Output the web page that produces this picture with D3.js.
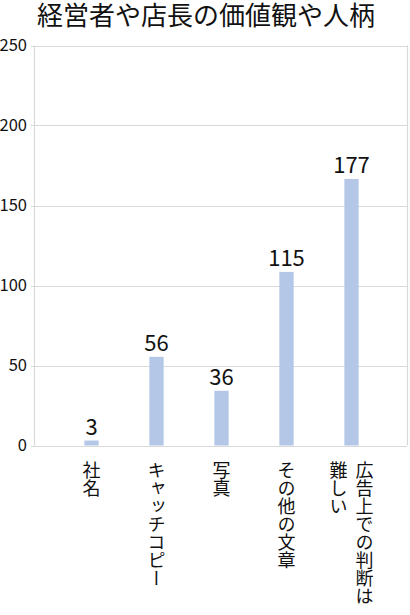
<!DOCTYPE html>
<html><head><meta charset="utf-8">
<script src="https://cdn.jsdelivr.net/npm/d3@7"></script>
<style>
html,body{margin:0;padding:0;background:#fff;}
body{position:relative;width:410px;height:615px;overflow:hidden;}
svg{display:block;font-family:"Noto Sans CJK JP","Noto Sans",sans-serif;}
#title{position:absolute;left:0;top:1px;width:412px;text-align:center;font-family:"Noto Sans CJK JP","Noto Sans",sans-serif;
  font-size:26px;line-height:26px;height:26px;color:#111;white-space:nowrap;}
</style></head>
<body>
<svg id="chart" width="410" height="615"></svg>
<div id="title"></div>
<script>
const title = "経営者や店長の価値観や人柄";
const categories = ["社名", "キャッチコピー", "写真", "その他の文章", "広告上での判断は\n難しい"];
const barValues = [3.1, 55.4, 34.2, 108.5, 166.6];
const valueLabels = ["3", "56", "36", "115", "177"];
const yTicks = [0, 50, 100, 150, 200, 250];

d3.select("#title").text(title);

const svg = d3.select("#chart");
const plot = {left: 34, right: 407, top: 45.5, bottom: 445.5};

const y = d3.scaleLinear().domain([0, 250]).range([plot.bottom, plot.top]);
const x = d3.scaleBand().domain(categories).range([59, 384]).paddingInner(0.78).paddingOuter(0.39);

// gridlines
svg.append("g").selectAll("line").data(yTicks).join("line")
  .attr("x1", plot.left - 3).attr("x2", plot.right)
  .attr("y1", d => Math.round(y(d)) + 0.5).attr("y2", d => Math.round(y(d)) + 0.5)
  .attr("stroke", "#d9d9d9").attr("stroke-width", 1.2);

// axis borders
svg.append("line").attr("x1", plot.left + 0.5).attr("x2", plot.left + 0.5)
  .attr("y1", y(250)).attr("y2", y(0)).attr("stroke", "#d9d9d9").attr("stroke-width", 1.2);
svg.append("line").attr("x1", plot.right + 0.5).attr("x2", plot.right + 0.5)
  .attr("y1", y(250)).attr("y2", y(0)).attr("stroke", "#d9d9d9").attr("stroke-width", 1.2);

// y tick labels
svg.append("g").selectAll("text").data(yTicks).join("text")
  .attr("x", 27).attr("y", d => y(d)).attr("dy", "0.36em")
  .attr("text-anchor", "end").attr("font-size", 16.5).attr("fill", "#111")
  .text(d => d);

// bars
svg.append("g").selectAll("rect").data(categories).join("rect")
  .attr("x", d => x(d)).attr("width", x.bandwidth())
  .attr("y", (d, i) => y(barValues[i]))
  .attr("height", (d, i) => y(0) - y(barValues[i]))
  .attr("fill", "#b4c7e7");

// value labels
svg.append("g").selectAll("text").data(categories).join("text")
  .attr("x", d => x(d) + x.bandwidth() / 2)
  .attr("y", (d, i) => y(barValues[i]) - 6)
  .attr("text-anchor", "middle").attr("font-size", 22).attr("fill", "#111")
  .text((d, i) => valueLabels[i]);

// category labels (vertical)
const cat = svg.append("g");
categories.forEach(c => {
  const lines = c.split("\n");
  const cx = x(c) + x.bandwidth() / 2;
  const gap = 26;
  lines.forEach((ln, j) => {
    const off = (lines.length - 1) * gap / 2 - j * gap;
    cat.append("text")
      .attr("x", cx + off).attr("y", 461)
      .attr("font-size", 18).attr("fill", "#111")
      .style("writing-mode", "vertical-rl")
      .text(ln);
  });
});
</script>
</body></html>
